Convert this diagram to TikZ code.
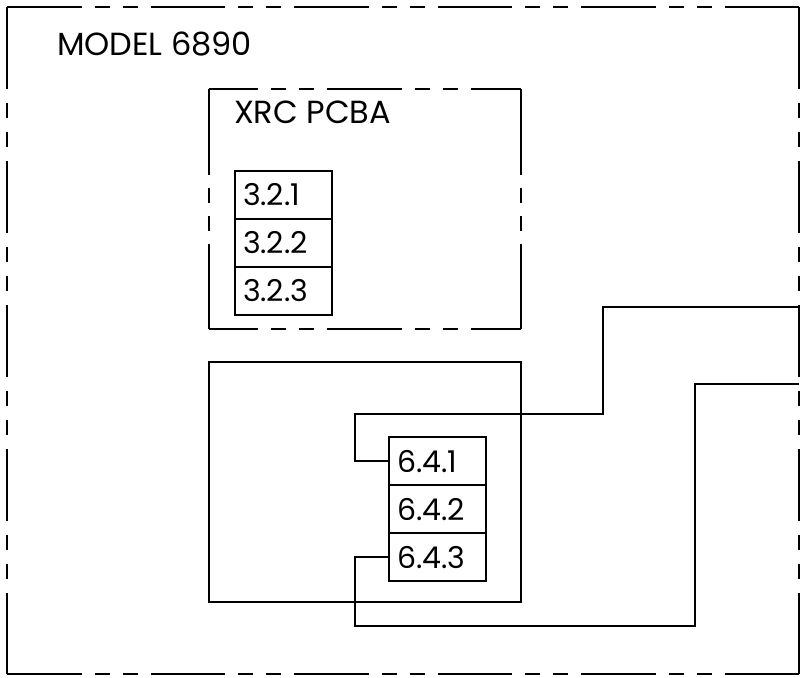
\documentclass[tikz,border=0pt]{standalone}
\usepackage{fontspec}
\setmainfont{Poppins}
\usetikzlibrary{positioning}

\newcommand{\titlefont}{\fontsize{16}{19}\selectfont}
\newcommand{\cellfont}{\fontsize{15}{18}\selectfont}

\begin{document}
\begin{tikzpicture}[
  x=0.5pt, y=-0.5pt, line width=1pt,
  cell/.style={rectangle, draw, outer sep=0pt, minimum height=24pt, text width=40.25pt, inner xsep=4pt, inner ysep=0pt, align=left, font=\cellfont},
  boxlabel/.style={anchor=base west, inner sep=0pt, font=\titlefont},
  outerh/.style={dash pattern={on 37.25pt off 6.5pt on 7.5pt off 6.5pt on 7.5pt off 6.5pt}},
  outerv/.style={dash pattern={on 41pt off 7pt on 7.5pt off 7pt on 7.5pt off 7pt on 36pt off 7pt on 7.5pt off 7pt on 7.5pt off 7pt on 36pt off 7pt on 7.5pt off 7pt on 7.5pt off 7pt on 36pt off 7pt on 7.5pt off 7pt on 7.5pt off 7pt on 41pt off 7pt}},
  pcbah/.style={dash pattern={on 37.5pt off 6.5pt on 7.5pt off 6.5pt on 7.5pt off 6.5pt}, dash phase=13pt},
  pcbav/.style={dash pattern={on 42.75pt off 6.5pt on 7.5pt off 6.5pt on 7.5pt off 6.5pt}},
  wire/.style={line width=1pt},
]
\useasboundingbox (0,0) rectangle (801,677);

% model enclosure
\draw[outerh] (7,7) -- (799,7);
\draw[outerh] (7,674) -- (799,674);
\draw[outerv] (7,7) -- (7,674);
\draw[outerv] (799,7) -- (799,674);
\node[boxlabel] (model) at (56,55) {MODEL 6890};

% XRC PCBA
\draw[pcbah] (208.5,89) -- (521,89);
\draw[pcbah] (208.5,329) -- (521,329);
\draw[pcbav] (208.5,89) -- (208.5,329);
\draw[pcbav] (521,89) -- (521,329);
\node[boxlabel] (xrc) at (233,123) {XRC PCBA};

\node[cell, anchor=north west] (c321) at (235,171) {3.2.1};
\node[cell, below=0pt of c321] (c322) {3.2.2};
\node[cell, below=0pt of c322] (c323) {3.2.3};

% second board
\draw (208.5,362.3) rectangle (521,601.7);

\node[cell, anchor=north west] (c641) at (389,437.3) {6.4.1};
\node[cell, below=0pt of c641] (c642) {6.4.2};
\node[cell, below=0pt of c642] (c643) {6.4.3};

% wires to the outside
\coordinate (exit1) at (799,307.3);
\coordinate (exit2) at (799,384.3);
\draw[wire] (c641.west) -| (355,414) -| (603.3,307.3) -- (exit1);
\draw[wire] (c643.west) -| (355,626) -| (695,384.3) -- (exit2);
\end{tikzpicture}
\end{document}
